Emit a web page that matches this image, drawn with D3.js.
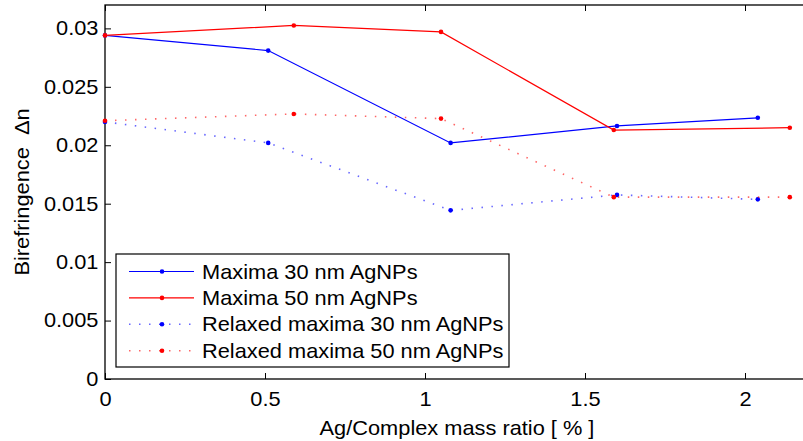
<!DOCTYPE html>
<html>
<head>
<meta charset="utf-8">
<script src="https://cdn.jsdelivr.net/npm/d3@7"></script>
<style>
    body { margin: 0; background: #fff; }
    svg { display: block; font-family: "Liberation Sans", Arial, sans-serif; }
</style>
</head>
<body>
<div id="chart"></div>
<script>
// data
const xBlue = [0, 0.51, 1.08, 1.6, 2.04]
const xRed = [0, 0.59, 1.05, 1.59, 2.14]
const max30 = [0.0294, 0.0281, 0.0202, 0.02165, 0.02235]
const max50 = [0.0294, 0.03025, 0.0297, 0.0213, 0.0215]
const relaxed30 = [0.0220, 0.0202, 0.01443, 0.01575, 0.01537]
const relaxed50 = [0.0221, 0.02268, 0.02228, 0.01556, 0.01556]
const seriesNames = ["Maxima 30 nm AgNPs", "Maxima 50 nm AgNPs",
    "Relaxed maxima 30 nm AgNPs", "Relaxed maxima 50 nm AgNPs"]
const xTicks = [0, 0.5, 1, 1.5, 2]
const yTicks = [0, 0.005, 0.01, 0.015, 0.02, 0.025, 0.03]

function draw() {
    let dimensions = {
        width: 803,
        height: 441,
        left: 105,
        top: 5,
        right: 809,
        bottom: 379,
    };
    const stretch = "scale(1.09,1)"

    const series = [
        { name: seriesNames[0], xs: xBlue, ys: max30, color: "#0000ff", dotted: false },
        { name: seriesNames[1], xs: xRed, ys: max50, color: "#ff0000", dotted: false },
        { name: seriesNames[2], xs: xBlue, ys: relaxed30, color: "#0000ff", dotted: true },
        { name: seriesNames[3], xs: xRed, ys: relaxed50, color: "#ff0000", dotted: true },
    ]

    const svg = d3.select('#chart')
        .append("svg")
        .attr("width", dimensions.width)
        .attr("height", dimensions.height)

    var x = d3.scaleLinear()
        .domain([0, 2.2])
        .range([dimensions.left, dimensions.right]);
    var y = d3.scaleLinear()
        .domain([0, 0.032])
        .range([dimensions.bottom, dimensions.top]);

    //////////
    // AXES //
    //////////
    const fmt = d3.format("~g")

    const xAxis = svg.append("g")
        .attr("transform", `translate(0,${dimensions.bottom})`)
        .call(d3.axisBottom(x).tickValues(xTicks).tickFormat(fmt)
            .tickSizeInner(-6).tickSizeOuter(0).tickPadding(13))
    const yAxis = svg.append("g")
        .attr("transform", `translate(${dimensions.left},0)`)
        .call(d3.axisLeft(y).tickValues(yTicks).tickFormat(fmt)
            .tickSizeInner(-6).tickSizeOuter(0).tickPadding(6))
    // top and right: ticks only
    svg.append("g")
        .attr("transform", `translate(0,${dimensions.top})`)
        .call(d3.axisTop(x).tickValues(xTicks).tickFormat("")
            .tickSizeInner(-6).tickSizeOuter(0))
    svg.append("g")
        .attr("transform", `translate(${dimensions.right},0)`)
        .call(d3.axisRight(y).tickValues(yTicks).tickFormat("")
            .tickSizeInner(-6).tickSizeOuter(0))

    svg.selectAll(".domain").remove()
    svg.selectAll(".tick line").attr("stroke", "#000").attr("stroke-width", 1)
    svg.selectAll(".tick text")
        .attr("font-size", 20)
        .attr("font-family", "Liberation Sans, Arial, sans-serif")
        .attr("fill", "#000")
        .attr("transform", stretch)

    // box
    svg.append("rect")
        .attr("x", dimensions.left)
        .attr("y", dimensions.top)
        .attr("width", dimensions.right - dimensions.left)
        .attr("height", dimensions.bottom - dimensions.top)
        .attr("fill", "none")
        .attr("stroke", "#000")
        .attr("stroke-width", 1.3)

    // axis labels
    svg.append("text")
        .attr("text-anchor", "middle")
        .attr("transform", `translate(${(dimensions.left + dimensions.right) / 2},435) ${stretch}`)
        .attr("font-size", 20)
        .text("Ag/Complex mass ratio [ % ]")

    svg.append("text")
        .attr("text-anchor", "middle")
        .attr("transform", `translate(29,${(dimensions.top + dimensions.bottom) / 2}) rotate(-90) scale(1.09,1)`)
        .attr("font-size", 20)
        .attr("xml:space", "preserve")
        .text("Birefringence  \u0394n")

    //////////
    // LINES //
    //////////
    const line = d3.line()
        .x(d => x(d[0]))
        .y(d => y(d[1]))

    const plot = svg.append("g")
    series.forEach(s => {
        const pts = s.xs.map((v, i) => [v, s.ys[i]])
        plot.append("path")
            .datum(pts)
            .attr("d", line)
            .attr("fill", "none")
            .attr("stroke", s.color)
            .attr("stroke-width", s.dotted ? 1.6 : 1.2)
            .attr("stroke-dasharray", s.dotted ? "1.5 8.5" : null)
            .attr("opacity", s.dotted ? 0.6 : 1)
        plot.selectAll(null)
            .data(pts)
            .enter()
            .append("circle")
            .attr("cx", d => x(d[0]))
            .attr("cy", d => y(d[1]))
            .attr("r", 2.3)
            .attr("fill", s.color)
    })

    //////////
    // LEGEND //
    //////////
    const legend = svg.append("g")
    legend.append("rect")
        .attr("x", 116)
        .attr("y", 254)
        .attr("width", 393)
        .attr("height", 113)
        .attr("fill", "#fff")
        .attr("stroke", "#000")
        .attr("stroke-width", 1.2)

    const rows = legend.selectAll("g.row")
        .data(series)
        .enter()
        .append("g")
        .attr("class", "row")
        .attr("transform", (d, i) => `translate(0,${271.5 + i * 26.4})`)
    rows.append("line")
        .attr("x1", 129).attr("x2", 194)
        .attr("stroke", d => d.color)
        .attr("stroke-width", d => d.dotted ? 1.6 : 1.2)
        .attr("stroke-dasharray", d => d.dotted ? "1.5 8.5" : null)
        .attr("opacity", d => d.dotted ? 0.6 : 1)
    rows.append("circle")
        .attr("cx", 162)
        .attr("r", 2.3)
        .attr("fill", d => d.color)
    rows.append("text")
        .attr("transform", `translate(202,7) ${stretch}`)
        .attr("font-size", 20)
        .text(d => d.name)
}
draw()
</script>
</body>
</html>
